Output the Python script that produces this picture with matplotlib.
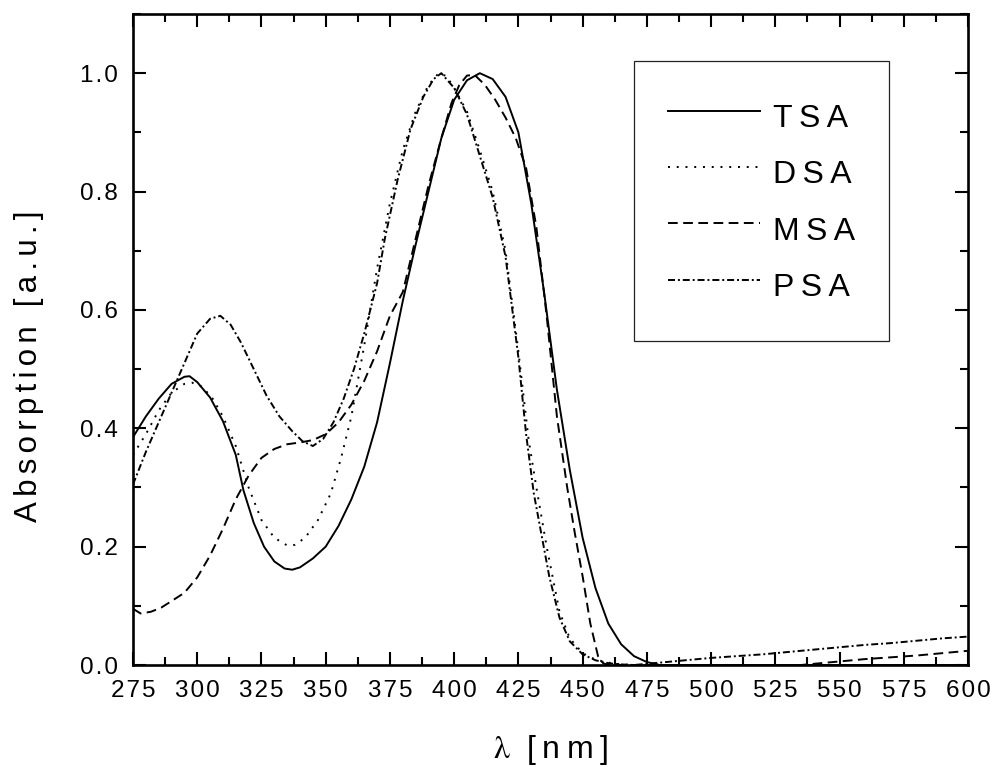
import numpy as np
import matplotlib
matplotlib.use('Agg')
import matplotlib.pyplot as plt
from matplotlib.ticker import MultipleLocator, FixedLocator

plt.rcParams['font.family'] = ['Liberation Sans', 'DejaVu Sans']
plt.rcParams['mathtext.fontset'] = 'stix'

TS = '\u2009'   # thin space, used as letter spacing
SS = '\u2006'   # six-per-em space
HS = '\u200a'   # hair space


def spaced(s, sep):
    return sep.join(list(s))


# --- data ---
tsa_x = [275, 280, 285, 290, 295, 297, 300, 305, 310, 315, 318, 322, 326, 330, 334, 337,
         340, 345, 350, 355, 360, 365, 370, 375, 380, 385, 390, 395, 400, 405, 410, 415,
         420, 425, 430, 435, 440, 445, 450, 455, 460, 465, 470, 475, 480, 600]
tsa_y = [0.385, 0.42, 0.45, 0.475, 0.487, 0.488, 0.478, 0.452, 0.412, 0.355, 0.295, 0.24,
         0.2, 0.175, 0.163, 0.161, 0.165, 0.18, 0.2, 0.235, 0.28, 0.335, 0.41, 0.51, 0.615,
         0.71, 0.8, 0.89, 0.955, 0.988, 1.0, 0.99, 0.96, 0.9, 0.78, 0.63, 0.465, 0.33,
         0.215, 0.13, 0.07, 0.035, 0.015, 0.005, 0.0, 0.0]

dsa_x = [275, 280, 285, 290, 295, 298, 302, 306, 310, 315, 320, 325, 330, 335, 338, 342,
         347, 352, 356, 360, 365, 370, 375, 380, 385, 390, 394, 397, 400, 405, 410, 415,
         420, 425, 429, 432, 436, 441, 445, 450, 455, 460, 465, 470, 600]
dsa_y = [0.355, 0.39, 0.43, 0.46, 0.475, 0.477, 0.47, 0.45, 0.42, 0.37, 0.3, 0.245, 0.215,
         0.202, 0.203, 0.215, 0.245, 0.29, 0.35, 0.42, 0.54, 0.67, 0.78, 0.87, 0.935, 0.98,
         1.0, 0.995, 0.975, 0.935, 0.87, 0.8, 0.7, 0.53, 0.38, 0.3, 0.2, 0.09, 0.045, 0.02,
         0.009, 0.004, 0.001, 0.0, 0.0]

msa_x = [275, 278, 282, 286, 290, 295, 300, 305, 310, 315, 320, 325, 330, 335, 340, 345,
         350, 355, 360, 365, 370, 375, 380, 385, 390, 395, 399, 402, 405, 408, 412, 416, 420,
         424, 428, 432, 436, 440, 444, 447, 450, 453, 456, 458, 460, 535, 540, 550, 560,
         570, 580, 590, 600]
msa_y = [0.095, 0.087, 0.09, 0.097, 0.108, 0.122, 0.148, 0.185, 0.23, 0.28, 0.32, 0.35,
         0.365, 0.373, 0.376, 0.38, 0.39, 0.41, 0.44, 0.48, 0.53, 0.59, 0.63, 0.72, 0.81,
         0.89, 0.95, 0.98, 0.996, 0.997, 0.98, 0.955, 0.925, 0.89, 0.84, 0.74, 0.59, 0.42,
         0.3, 0.222, 0.15, 0.07, 0.015, 0.003, 0.0, 0.0, 0.002, 0.006, 0.01, 0.013, 0.016,
         0.02, 0.024]

psa_x = [275, 280, 285, 290, 295, 300, 305, 309, 313, 317, 322, 327, 332, 337, 341, 345,
         349, 353, 357, 361, 365, 370, 373, 378, 383, 388, 392, 395, 400, 405, 410, 415,
         420, 425, 428, 431, 434, 437, 441, 445, 450, 455, 460, 465, 470, 480, 490, 500,
         510, 520, 530, 540, 550, 560, 570, 580, 590, 600]
psa_y = [0.305, 0.36, 0.41, 0.46, 0.51, 0.56, 0.585, 0.59, 0.575, 0.545, 0.5, 0.455, 0.42,
         0.395, 0.378, 0.37, 0.382, 0.41, 0.45, 0.5, 0.56, 0.645, 0.72, 0.82, 0.905, 0.96,
         0.99, 1.0, 0.975, 0.93, 0.86, 0.79, 0.69, 0.52, 0.39, 0.29, 0.22, 0.15, 0.08, 0.04,
         0.018, 0.008, 0.003, 0.001, 0.0, 0.004, 0.008, 0.012, 0.015, 0.018, 0.022, 0.026,
         0.03, 0.034, 0.037, 0.041, 0.045, 0.048]

labels = ['TSA', 'DSA', 'MSA', 'PSA']
xticks = [275, 300, 325, 350, 375, 400, 425, 450, 475, 500, 525, 550, 575, 600]
yticks = [0.0, 0.2, 0.4, 0.6, 0.8, 1.0]

fig = plt.figure(figsize=(9.94, 7.67), dpi=100)
ax = fig.add_axes([133 / 994, 102 / 767, 835 / 994, 651 / 767])

lw = 1.4
ax.plot(tsa_x, tsa_y, color='black', lw=lw, ls='-', label=spaced(labels[0], TS))
ax.plot(dsa_x, dsa_y, color='black', lw=lw, ls=(0, (1, 3.5)), label=spaced(labels[1], TS))
ax.plot(msa_x, msa_y, color='black', lw=lw, ls=(0, (5, 2.8)), label=spaced(labels[2], TS))
ax.plot(psa_x, psa_y, color='black', lw=lw, ls=(0, (3.6, 1.5, 1, 1.5)), label=spaced(labels[3], TS))

ax.set_xlim(275, 600)
ax.set_ylim(0, 1.1)

ax.xaxis.set_major_locator(FixedLocator(xticks))
ax.xaxis.set_minor_locator(MultipleLocator(12.5))
ax.yaxis.set_major_locator(FixedLocator(yticks))
ax.yaxis.set_minor_locator(MultipleLocator(0.1))
ax.set_xticklabels([spaced(str(t), HS) for t in xticks])
ax.set_yticklabels([spaced(f'{t:.1f}', HS) for t in yticks])

ax.tick_params(which='both', direction='in', top=True, right=True, width=1.5)
ax.tick_params(which='major', length=9.5, labelsize=17.5, pad=11)
ax.tick_params(which='minor', length=5.5)
for sp in ax.spines.values():
    sp.set_linewidth(1.9)

ax.set_ylabel(spaced('Absorption [a.u.]', SS), fontsize=22.5)
ax.yaxis.set_label_coords(-0.106, 0.459)
ax.set_xlabel(r'$\mathrm{\lambda}$  ' + spaced('[nm]', TS), fontsize=23, labelpad=22)

leg = ax.legend(loc='upper left', bbox_to_anchor=((634 - 133) / 835, (665 - 61) / 651),
                borderaxespad=0, fontsize=23, frameon=True, fancybox=False,
                edgecolor='#222222', framealpha=1, handlelength=2.9, handletextpad=0.4,
                handleheight=1.75, labelspacing=0.38, borderpad=1.05)
leg.get_frame().set_linewidth(0.9)

fig.savefig('out.png', dpi=100)
